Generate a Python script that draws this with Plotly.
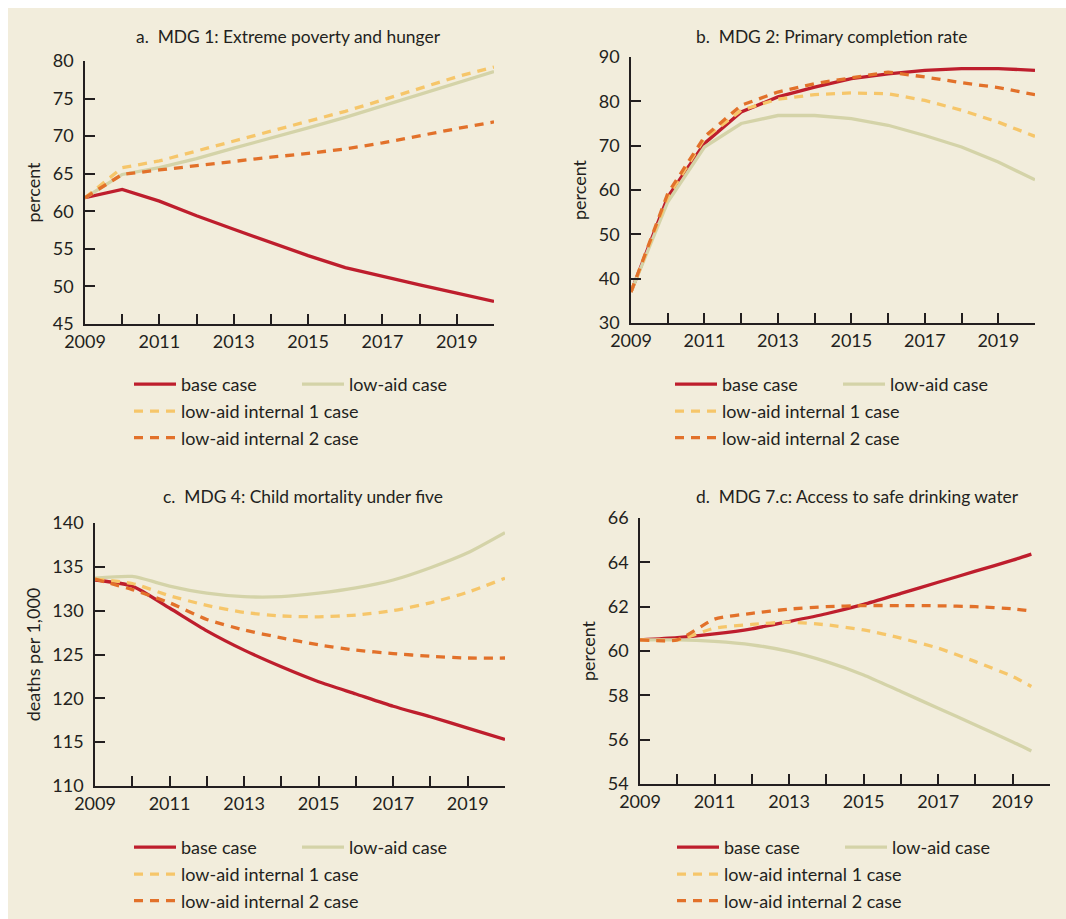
import plotly.graph_objects as go

# ---------------- data ----------------
years = [2009, 2010, 2011, 2012, 2013, 2014, 2015, 2016, 2017, 2018, 2019, 2020]
years_d = [2009, 2010, 2011, 2012, 2013, 2014, 2015, 2016, 2017, 2018, 2019, 2019.5]

series_names = ["base case", "low-aid case", "low-aid internal 1 case", "low-aid internal 2 case"]

# a. MDG 1: Extreme poverty and hunger (percent)
a_base = [61.8, 62.9, 61.35, 59.4, 57.6, 55.8, 54.1, 52.5, 51.3, 50.2, 49.1, 48.0]
a_low = [61.8, 64.9, 65.8, 67.0, 68.4, 69.7, 71.1, 72.5, 74.0, 75.6, 77.0, 78.6]
a_int1 = [61.8, 65.8, 66.7, 68.0, 69.3, 70.6, 72.0, 73.3, 74.8, 76.4, 77.9, 79.2]
a_int2 = [61.8, 64.9, 65.5, 66.1, 66.7, 67.2, 67.7, 68.3, 69.1, 70.1, 71.0, 71.9]

# b. MDG 2: Primary completion rate (percent)
b_base = [37.0, 58.4, 70.5, 77.6, 81.0, 83.2, 85.1, 86.2, 87.0, 87.4, 87.4, 87.0]
b_low = [37.0, 57.3, 69.7, 75.0, 76.8, 76.8, 76.1, 74.6, 72.3, 69.7, 66.3, 62.3]
b_int1 = [37.0, 58.4, 71.6, 78.0, 80.5, 81.5, 81.9, 81.7, 80.2, 78.0, 75.3, 72.1]
b_int2 = [37.0, 59.2, 72.0, 79.1, 82.1, 84.0, 85.3, 86.6, 85.5, 84.2, 83.1, 81.5]

# c. MDG 4: Child mortality under five (deaths per 1,000)
c_base = [133.5, 132.8, 130.3, 127.7, 125.5, 123.6, 121.9, 120.5, 119.1, 117.9, 116.6, 115.3]
c_low = [133.7, 133.9, 132.8, 132.0, 131.6, 131.6, 132.0, 132.6, 133.5, 134.9, 136.6, 138.9]
c_int1 = [133.6, 133.1, 131.7, 130.6, 129.8, 129.4, 129.3, 129.5, 130.0, 130.9, 132.1, 133.7]
c_int2 = [133.6, 132.4, 130.9, 129.0, 127.8, 126.9, 126.1, 125.5, 125.1, 124.8, 124.6, 124.6]

# d. MDG 7.c: Access to safe drinking water (percent)
d_base = [60.5, 60.6, 60.77, 61.0, 61.33, 61.68, 62.1, 62.6, 63.1, 63.6, 64.1, 64.37]
d_low = [60.5, 60.5, 60.43, 60.28, 59.98, 59.52, 58.92, 58.17, 57.42, 56.66, 55.9, 55.49]
d_int1 = [60.5, 60.5, 61.03, 61.2, 61.3, 61.18, 60.95, 60.58, 60.13, 59.52, 58.85, 58.4]
d_int2 = [60.5, 60.5, 61.44, 61.7, 61.89, 62.0, 62.05, 62.05, 62.04, 62.0, 61.9, 61.8]

titles = [
    "a.\u00a0 MDG 1: Extreme poverty and hunger",
    "b.\u00a0 MDG 2: Primary completion rate",
    "c.\u00a0 MDG 4: Child mortality under five",
    "d.\u00a0 MDG 7.c: Access to safe drinking water",
]
y_titles = ["percent", "percent", "deaths per 1,000", "percent"]
y_ranges = [[45, 80], [30, 90], [110, 140], [54, 66]]
y_dticks = [5, 10, 5, 2]
x_tickvals = list(range(2009, 2021))
x_ticktext = [str(y) if (y - 2009) % 2 == 0 and y < 2020 else "" for y in x_tickvals]

# ---------------- styling ----------------
W, H = 1066, 919
FONT = "Lato"
BG = "#F2EDDC"
INK = "#231F20"
colors = ["#BE1E2D", "#D4D3A8", "#F6C66A", "#E2712A"]
dashes = ["solid", "solid", "9px,7px", "9px,7px"]

# panel pixel boxes: (left, right, top, bottom)
boxes = [
    (85, 494, 61, 324),
    (631, 1035, 57, 323),
    (95, 505, 523, 786),
    (640, 1050, 518, 784),
]
panel_data = [
    (years, [a_base, a_low, a_int1, a_int2], "linear"),
    (years, [b_base, b_low, b_int1, b_int2], "linear"),
    (years, [c_base, c_low, c_int1, c_int2], "spline"),
    (years_d, [d_base, d_low, d_int1, d_int2], "spline"),
]
title_pos = [(288, 37), (831, 37), (303, 497), (857, 497)]
legend_pos = [(129, 383), (670, 383), (129, 846), (672, 846)]

fig = go.Figure()
layout = {}
annotations = []

for i, (box, (xs, ys_list, shape), title) in enumerate(zip(boxes, panel_data, titles)):
    n = "" if i == 0 else str(i + 1)
    l, r, t, b = box
    xa = dict(
        domain=[l / W, r / W], range=[2009, 2020], anchor="y" + n,
        tickmode="array", tickvals=x_tickvals, ticktext=x_ticktext,
        ticks="inside", ticklen=10, tickwidth=1.5, tickcolor=INK,
        showline=True, linecolor=INK, linewidth=1.5, showgrid=False, zeroline=False,
        tickfont=dict(family=FONT, size=18, color=INK), ticklabelstandoff=1,
        fixedrange=True, automargin=False,
    )
    ya = dict(
        domain=[1 - b / H, 1 - t / H], range=y_ranges[i], anchor="x" + n,
        dtick=y_dticks[i], tick0=0,
        ticks="inside", ticklen=10, tickwidth=1.5, tickcolor=INK,
        showline=True, linecolor=INK, linewidth=1.5, showgrid=False, zeroline=False,
        tickfont=dict(family=FONT, size=18, color=INK), ticklabelstandoff=6,
        title=dict(text=y_titles[i], font=dict(family=FONT, size=18, color=INK), standoff=7),
        fixedrange=True, automargin=False,
    )
    layout["xaxis" + n] = xa
    layout["yaxis" + n] = ya

    lx, ly = legend_pos[i]
    leg_top = "legend" + ("" if i == 0 else str(2 * i + 1))
    leg_bot = "legend" + str(2 * i + 2)
    for k, (name, ys) in enumerate(zip(series_names, ys_list)):
        fig.add_trace(go.Scatter(
            x=xs, y=ys, mode="lines", name=name,
            line=dict(color=colors[k], width=3.3, dash=dashes[k], shape=shape, smoothing=0.6),
            xaxis="x" + n, yaxis="y" + n,
            legend=leg_top if k < 2 else leg_bot,
            hoverinfo="skip",
        ))
    common = dict(
        bgcolor="rgba(0,0,0,0)", font=dict(family=FONT, size=18, color=INK),
        itemwidth=42, xanchor="left", yanchor="top", itemclick=False, itemdoubleclick=False,
        tracegroupgap=0,
    )
    layout[leg_top] = dict(common, x=lx / W, y=1 - (ly - 17) / H, orientation="h",
                           entrywidth=111, entrywidthmode="pixels")
    layout[leg_bot] = dict(common, x=lx / W, y=1 - (ly + 10) / H, orientation="v")

    tx, ty = title_pos[i]
    annotations.append(dict(
        text=title, xref="paper", yref="paper", x=tx / W, y=1 - ty / H,
        xanchor="center", yanchor="middle", showarrow=False,
        font=dict(family=FONT, size=17.4, color=INK),
    ))

fig.update_layout(
    width=W, height=H,
    margin=dict(l=0, r=0, t=0, b=0, autoexpand=False),
    paper_bgcolor="white", plot_bgcolor="rgba(0,0,0,0)",
    font=dict(family=FONT, size=16, color=INK),
    annotations=annotations,
    shapes=[dict(type="rect", xref="paper", yref="paper", x0=8 / W, x1=1, y0=0, y1=1 - 8 / H,
                 fillcolor=BG, line=dict(width=0), layer="below")],
    **layout,
)

fig.write_html(
    "out.html",
    config={"displayModeBar": False},
    post_script="document.body.style.margin='0';document.body.style.overflow='hidden';",
)
